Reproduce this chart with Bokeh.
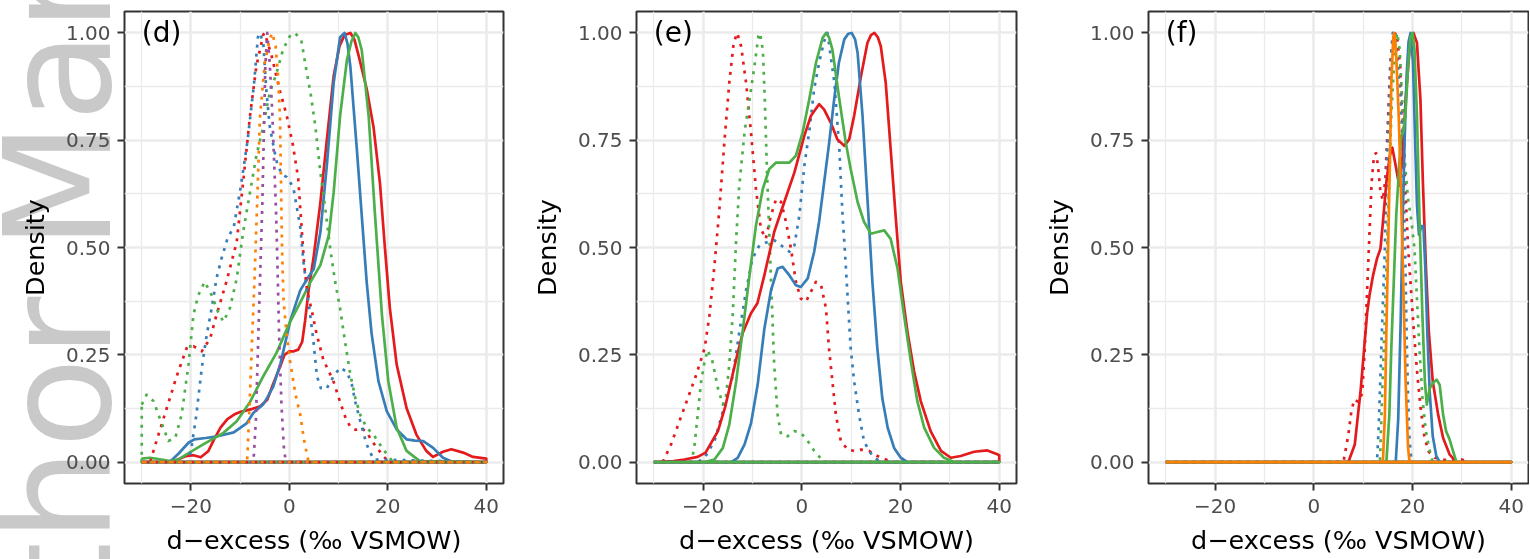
from bokeh.plotting import figure
from bokeh.layouts import row
from bokeh.models import (Range1d, FixedTicker, Label, CustomJSTickFormatter,
                          PrintfTickFormatter, Div)
from bokeh.embed import file_html
from bokeh.resources import INLINE

# ------------------------------------------------------------------ data
X_LIMITS = [-30, 40]
X_TICKS = [-20, 0, 20, 40]
X_MINOR = [-30, -10, 10, 30]
Y_TICKS = [0.0, 0.25, 0.5, 0.75, 1.0]
Y_MINOR = [0.125, 0.375, 0.625, 0.875]
PANEL_TAGS = ["(d)", "(e)", "(f)"]
X_TITLE = "d\u2212excess (\u2030 VSMOW)"
Y_TITLE = "Density"
WATERMARK = "Author Manuscript"

# ---- panel (d)
D_RED_SOLID_X = [-30, -26, -23, -21, -19.5, -18, -16.5, -15.3, -14, -12.6, -11, -9.9, -7.5, -5.9, -4.5, -3.2, -1.8, -1.0, 0.0, 0.9, 1.8, 2.6, 3.2, 3.9, 4.95, 6.3, 7.6, 9.0, 10.2, 11.2, 12.4, 13.2, 14.0, 15.7, 17.1, 18.4, 19.4, 20.4, 21.8, 23.8, 25.8, 27.8, 29.2, 31.2, 32.9, 35.3, 37.3, 40]
D_RED_SOLID_Y = [0, 0, 0.004, 0.014, 0.016, 0.011, 0.025, 0.053, 0.08, 0.1, 0.112, 0.117, 0.124, 0.13, 0.145, 0.185, 0.225, 0.25, 0.258, 0.258, 0.262, 0.28, 0.33, 0.40, 0.48, 0.605, 0.75, 0.9, 0.97, 0.995, 1.0, 0.985, 0.95, 0.87, 0.78, 0.65, 0.50, 0.36, 0.227, 0.126, 0.064, 0.026, 0.012, 0.024, 0.03, 0.022, 0.012, 0.008]
D_BLUE_SOLID_X = [-30, -24.3, -22.5, -20.5, -19.3, -17, -14.6, -11.3, -8.7, -7.3, -5.3, -4.5, -3.3, -1.8, 0.2, 2.2, 3.8, 4.95, 6.3, 7.6, 9.0, 10.3, 11.2, 11.8, 12.4, 13.7, 14.7, 15.7, 16.7, 18.1, 19.8, 21.8, 23.8, 25.5, 27.2, 29.2, 31.2, 33.2, 40]
D_BLUE_SOLID_Y = [0, 0, 0.02, 0.045, 0.053, 0.056, 0.06, 0.069, 0.09, 0.115, 0.135, 0.15, 0.175, 0.23, 0.33, 0.40, 0.43, 0.45, 0.536, 0.69, 0.884, 0.99, 1.0, 0.975, 0.92, 0.73, 0.575, 0.42, 0.30, 0.188, 0.118, 0.076, 0.053, 0.05, 0.049, 0.033, 0.01, 0.0, 0]
D_GREEN_SOLID_X = [-30, -28.3, -26, -24.3, -22.5, -20.9, -17.5, -13.4, -10.7, -8.0, -5.3, -2.6, 0.07, 2.3, 4.3, 6.3, 8.0, 9.0, 10.3, 11.7, 12.6, 13.4, 14.0, 14.7, 16.1, 17.4, 18.8, 20.1, 21.8, 23.8, 26.5, 40]
D_GREEN_SOLID_Y = [0.008, 0.01, 0.006, 0.002, 0.006, 0.018, 0.041, 0.068, 0.095, 0.14, 0.2, 0.255, 0.325, 0.374, 0.42, 0.459, 0.528, 0.629, 0.807, 0.938, 0.98, 1.0, 0.99, 0.96, 0.807, 0.575, 0.343, 0.188, 0.08, 0.026, 0.002, 0]
D_RED_DOT_X = [-30, -28.3, -27, -24.9, -22.9, -20.9, -19.5, -17.8, -16.1, -14.8, -12.8, -10.7, -9.4, -8.0, -6.7, -5.3, -5.0, -3.6, -2.0, -0.6, 0.7, 1.8, 2.4, 3.0, 3.6, 4.5, 5.5, 6.9, 8.9, 10.3, 11.5, 12.5, 13.5, 14.5, 15.7, 16.7, 18.0, 19.2, 20.3, 40]
D_RED_DOT_Y = [0, 0, 0.049, 0.126, 0.2, 0.265, 0.27, 0.258, 0.288, 0.343, 0.42, 0.513, 0.652, 0.807, 0.923, 0.996, 1.0, 0.946, 0.868, 0.81, 0.74, 0.66, 0.56, 0.46, 0.40, 0.355, 0.3, 0.238, 0.19, 0.14, 0.1, 0.08, 0.075, 0.08, 0.07, 0.05, 0.03, 0.012, 0, 0]
D_BLUE_DOT_X = [-30, -20.5, -19.9, -18.9, -17.8, -16.8, -15.8, -14.8, -13.9, -12.6, -11.3, -9.9, -8.5, -7.2, -6.4, -6.0, -5.3, -4.7, -4.0, -3.2, -2.5, -1.5, -0.5, 0.8, 2.2, 2.9, 3.8, 4.8, 5.6, 6.4, 7.5, 9.0, 10.3, 11.7, 12.7, 13.4, 14.4, 15.7, 17.1, 40]
D_BLUE_DOT_Y = [0, 0, 0.033, 0.11, 0.219, 0.296, 0.358, 0.428, 0.47, 0.52, 0.548, 0.64, 0.749, 0.88, 0.99, 1.0, 0.977, 0.868, 0.783, 0.734, 0.696, 0.67, 0.664, 0.64, 0.548, 0.463, 0.381, 0.29, 0.2, 0.172, 0.17, 0.2, 0.22, 0.21, 0.18, 0.14, 0.095, 0.041, 0.006, 0]
D_GREEN_DOT_X = [-30, -29, -27.6, -26.6, -25.6, -24.6, -23.2, -21.9, -20.5, -19.5, -18.5, -17.2, -15.8, -14.5, -13.4, -12.1, -10.7, -9.4, -8.0, -6.7, -5.3, -4.0, -2.6, -1.3, 0.07, 1.1, 2.4, 3.3, 4.3, 5.3, 6.3, 7.3, 8.3, 9.3, 10.3, 11.3, 12.4, 13.4, 14.4, 15.7, 17.1, 18.4, 19.8, 21.1, 40]
D_GREEN_DOT_Y = [0.134, 0.157, 0.142, 0.11, 0.08, 0.049, 0.056, 0.11, 0.227, 0.343, 0.389, 0.42, 0.389, 0.35, 0.327, 0.358, 0.428, 0.536, 0.629, 0.714, 0.783, 0.861, 0.907, 0.961, 0.992, 1.0, 0.985, 0.923, 0.86, 0.78, 0.675, 0.59, 0.497, 0.42, 0.358, 0.281, 0.203, 0.149, 0.11, 0.08, 0.064, 0.041, 0.018, 0, 0]
D_PURPLE_DOT_X = [-30, -7.3, -6.8, -6.3, -5.9, -5.5, -5.2, -4.9, -4.5, -4.0, -3.5, -3.1, -2.7, -2.4, -2.1, -1.6, -1.1, -0.7, 40]
D_PURPLE_DOT_Y = [0, 0, 0.1, 0.3, 0.45, 0.6, 0.76, 0.92, 1.0, 0.93, 0.82, 0.7, 0.58, 0.45, 0.3, 0.13, 0.03, 0, 0]
D_ORANGE_DOT_X = [-30, -8.6, -8.2, -7.6, -7.1, -6.5, -6.0, -5.0, -4.0, -3.5, -2.8, -2.3, -1.9, -1.7, -1.5, -1.2, -0.6, 0.2, 1.2, 2.2, 3.0, 3.9, 40]
D_ORANGE_DOT_Y = [0, 0, 0.1, 0.28, 0.42, 0.62, 0.8, 0.93, 0.985, 1.0, 0.97, 0.9, 0.8, 0.65, 0.5, 0.38, 0.3, 0.23, 0.16, 0.11, 0.05, 0, 0]

# ---- panel (e)
E_RED_SOLID_X = [-30, -26, -23.8, -21.1, -19.5, -17.0, -15.5, -13.5, -12.0, -10.3, -9.0, -7.6, -5.6, -3.55, -1.5, 0.5, 1.85, 3.5, 4.5, 5.9, 7.2, 8.6, 9.6, 10.6, 12.0, 13.3, 14.0, 14.7, 15.4, 16.0, 17.0, 18.0, 19.0, 20.05, 21.4, 22.75, 24.1, 26.1, 28.2, 30.2, 32.2, 34.9, 37.6, 39.6, 40]
E_RED_SOLID_Y = [0, 0.002, 0.006, 0.012, 0.022, 0.072, 0.13, 0.23, 0.3, 0.347, 0.37, 0.435, 0.536, 0.606, 0.675, 0.76, 0.807, 0.834, 0.822, 0.79, 0.752, 0.737, 0.752, 0.807, 0.9, 0.977, 0.995, 1.0, 0.99, 0.969, 0.884, 0.73, 0.575, 0.42, 0.304, 0.211, 0.142, 0.072, 0.026, 0.01, 0.014, 0.024, 0.027, 0.018, 0.016]
E_BLUE_SOLID_X = [-30, -14.3, -13.0, -11.6, -10.3, -8.95, -7.6, -6.25, -4.9, -3.9, -2.5, -1.2, -0.2, 1.2, 2.5, 3.5, 4.5, 5.5, 6.5, 7.5, 8.6, 9.4, 10.1, 10.8, 11.3, 12.3, 13.3, 14.3, 15.3, 16.3, 17.4, 18.7, 20.05, 21.4, 40]
E_BLUE_SOLID_Y = [0, 0, 0.01, 0.041, 0.09, 0.18, 0.31, 0.40, 0.451, 0.455, 0.435, 0.412, 0.408, 0.428, 0.49, 0.56, 0.65, 0.74, 0.84, 0.93, 0.985, 0.998, 1.0, 0.985, 0.954, 0.807, 0.613, 0.42, 0.265, 0.149, 0.08, 0.033, 0.01, 0, 0]
E_GREEN_SOLID_X = [-30, -19.7, -17.7, -16.0, -14.7, -13.3, -12.0, -10.6, -9.3, -7.9, -6.6, -5.2, -3.9, -2.5, -1.2, 0.16, 1.5, 2.86, 4.2, 4.9, 5.5, 6.2, 7.6, 8.9, 9.9, 11.3, 12.6, 14.0, 15.3, 16.7, 18.0, 19.4, 20.7, 22.1, 23.4, 24.8, 26.8, 28.8, 30.9, 40]
E_GREEN_SOLID_Y = [0, 0, 0.006, 0.033, 0.087, 0.188, 0.304, 0.435, 0.551, 0.637, 0.683, 0.698, 0.698, 0.698, 0.714, 0.768, 0.845, 0.93, 0.988, 1.0, 0.99, 0.961, 0.845, 0.745, 0.683, 0.606, 0.56, 0.532, 0.536, 0.54, 0.52, 0.451, 0.343, 0.234, 0.142, 0.08, 0.033, 0.01, 0, 0]
E_RED_DOT_X = [-30, -28.2, -26.5, -24.8, -23.1, -21.4, -19.7, -18.7, -17.7, -16.7, -15.7, -14.7, -13.8, -13.1, -12.3, -11.3, -10.3, -9.3, -8.3, -7.3, -6.25, -5.2, -4.2, -3.2, -2.2, -1.2, -0.2, 0.84, 1.85, 2.85, 3.9, 4.9, 5.5, 6.2, 6.9, 7.9, 9.3, 10.6, 12.0, 13.6, 15.3, 17.4, 18.7, 40]
E_RED_DOT_Y = [0, 0, 0.041, 0.095, 0.149, 0.203, 0.265, 0.343, 0.459, 0.59, 0.745, 0.884, 0.977, 1.0, 0.969, 0.884, 0.768, 0.637, 0.544, 0.52, 0.575, 0.613, 0.606, 0.559, 0.497, 0.42, 0.381, 0.374, 0.397, 0.42, 0.412, 0.358, 0.265, 0.188, 0.11, 0.049, 0.029, 0.026, 0.029, 0.026, 0.014, 0.004, 0, 0]
E_BLUE_DOT_X = [-30, -21.1, -19.7, -17.7, -15.7, -14.0, -12.7, -11.3, -10.0, -8.6, -6.9, -5.6, -4.2, -2.5, -1.5, -0.5, 0.5, 1.5, 2.5, 3.5, 4.5, 5.2, 6.6, 7.6, 8.25, 8.7, 9.3, 9.9, 10.6, 11.6, 12.6, 13.6, 14.7, 16.0, 40]
E_BLUE_DOT_Y = [0, 0, 0.01, 0.049, 0.13, 0.2, 0.3, 0.4, 0.474, 0.505, 0.513, 0.517, 0.505, 0.49, 0.505, 0.575, 0.69, 0.77, 0.87, 0.93, 0.98, 1.0, 0.884, 0.73, 0.575, 0.497, 0.381, 0.265, 0.188, 0.11, 0.049, 0.026, 0.01, 0, 0]
E_GREEN_DOT_X = [-30, -22.4, -21.8, -21.1, -20.4, -19.7, -19.1, -18.1, -17.0, -16.0, -15.4, -14.7, -14.0, -13.3, -12.7, -11.6, -10.6, -9.6, -8.8, -8.5, -7.9, -7.5, -7.1, -6.6, -6.1, -5.6, -4.9, -4.2, -2.9, -1.5, -0.2, 1.2, 2.5, 4.2, 4.9, 40]
E_GREEN_DOT_Y = [0, 0, 0.033, 0.11, 0.188, 0.234, 0.261, 0.234, 0.172, 0.134, 0.149, 0.227, 0.343, 0.52, 0.64, 0.77, 0.845, 0.923, 0.992, 1.0, 0.961, 0.845, 0.69, 0.536, 0.381, 0.227, 0.11, 0.064, 0.06, 0.072, 0.068, 0.049, 0.026, 0.004, 0, 0]

# ---- panel (f)
F_RED_SOLID_X = [-30, 7.0, 8.3, 9.5, 10.8, 11.3, 12.0, 12.8, 13.5, 14.0, 14.7, 15.4, 15.9, 16.6, 17.3, 18.0, 18.6, 19.4, 20.2, 20.9, 21.6, 22.1, 22.7, 23.3, 24.1, 25.2, 26.2, 27.5, 28.9, 40]
F_RED_SOLID_Y = [0, 0, 0.041, 0.169, 0.347, 0.39, 0.435, 0.474, 0.497, 0.559, 0.652, 0.714, 0.733, 0.69, 0.644, 0.714, 0.845, 0.961, 1.0, 0.977, 0.845, 0.652, 0.459, 0.304, 0.188, 0.11, 0.056, 0.018, 0, 0]
F_BLUE_SOLID_X = [-30, 16.6, 17.1, 17.6, 18.0, 18.4, 18.8, 19.2, 19.6, 20.1, 20.5, 20.9, 21.3, 21.8, 22.2, 22.6, 23.0, 23.5, 24.1, 24.8, 25.5, 40]
F_BLUE_SOLID_Y = [0, 0, 0.1, 0.33, 0.56, 0.75, 0.9, 0.98, 1.0, 0.93, 0.76, 0.6, 0.53, 0.55, 0.55, 0.45, 0.3, 0.16, 0.06, 0.015, 0, 0]
F_GREEN_SOLID_X = [-30, 14.7, 15.3, 15.7, 16.2, 16.7, 17.3, 17.7, 18.1, 18.55, 19.1, 19.6, 20.0, 20.4, 20.9, 21.4, 22.0, 22.5, 22.9, 23.5, 24.1, 24.9, 25.5, 26.2, 26.8, 27.5, 28.2, 28.9, 40]
F_GREEN_SOLID_Y = [0, 0, 0.11, 0.265, 0.42, 0.575, 0.69, 0.76, 0.768, 0.807, 0.923, 0.992, 1.0, 0.961, 0.807, 0.575, 0.343, 0.188, 0.134, 0.172, 0.184, 0.192, 0.18, 0.11, 0.072, 0.053, 0.026, 0, 0]
F_ORANGE_SOLID_X = [-30, 14.0, 14.4, 14.7, 15.05, 15.4, 15.7, 16.1, 16.3, 16.7, 17.2, 17.7, 18.2, 18.6, 19.1, 19.4, 40]
F_ORANGE_SOLID_Y = [0, 0, 0.11, 0.304, 0.497, 0.69, 0.884, 0.99, 1.0, 0.946, 0.807, 0.613, 0.381, 0.188, 0.033, 0, 0]
F_RED_DOT_X = [-30, 6.0, 7.0, 7.6, 8.2, 9.0, 9.8, 10.3, 10.8, 11.3, 11.7, 12.2, 12.6, 13.0, 13.5, 14.0, 14.5, 15.0, 15.5, 16.1, 16.8, 17.5, 18.0, 18.5, 19.1, 19.7, 20.3, 21.0, 21.7, 22.4, 23.2, 24.5, 27.5, 30.0, 31.0, 40]
F_RED_DOT_Y = [0, 0, 0.064, 0.118, 0.146, 0.14, 0.16, 0.26, 0.4, 0.54, 0.65, 0.715, 0.72, 0.69, 0.63, 0.61, 0.66, 0.79, 0.93, 0.995, 1.0, 0.92, 0.78, 0.65, 0.5, 0.4, 0.3, 0.2, 0.12, 0.06, 0.025, 0.01, 0.003, 0.006, 0, 0]
F_BLUE_DOT_X = [-30, 12.8, 13.1, 13.5, 13.9, 14.4, 14.8, 15.3, 15.7, 16.0, 16.5, 17.0, 17.6, 18.1, 18.5, 18.8, 19.1, 19.4, 19.8, 40]
F_BLUE_DOT_Y = [0, 0, 0.07, 0.2, 0.34, 0.5, 0.69, 0.85, 0.96, 1.0, 0.98, 0.93, 0.85, 0.7, 0.5, 0.3, 0.15, 0.05, 0, 0]
F_GREEN_DOT_X = [-30, 13.4, 13.7, 14.4, 15.05, 15.7, 16.4, 16.9, 17.4, 17.9, 18.5, 19.1, 19.8, 20.4, 20.9, 21.4, 22.0, 22.7, 23.5, 24.1, 40]
F_GREEN_DOT_Y = [0, 0, 0.11, 0.343, 0.575, 0.807, 0.961, 1.0, 0.961, 0.845, 0.69, 0.613, 0.559, 0.497, 0.381, 0.265, 0.149, 0.072, 0.026, 0, 0]

# ------------------------------------------------------------------ style
RED, BLUE, GREEN, PURPLE, ORANGE = "#E41A1C", "#377EB8", "#4DAF4A", "#984EA3", "#FF7F00"
FONT = "DejaVu Sans"
FRAME_H = 472
LINE_W = 2.7

PANELS = [
    # tag, curves in drawing order (x, y, colour, dotted), border_left, frame_w, border_right
    (PANEL_TAGS[0], [
        (D_RED_SOLID_X, D_RED_SOLID_Y, RED, False),
        (D_BLUE_SOLID_X, D_BLUE_SOLID_Y, BLUE, False),
        (D_GREEN_SOLID_X, D_GREEN_SOLID_Y, GREEN, False),
        (D_RED_DOT_X, D_RED_DOT_Y, RED, True),
        (D_BLUE_DOT_X, D_BLUE_DOT_Y, BLUE, True),
        (D_GREEN_DOT_X, D_GREEN_DOT_Y, GREEN, True),
        (D_PURPLE_DOT_X, D_PURPLE_DOT_Y, PURPLE, True),
        (D_ORANGE_DOT_X, D_ORANGE_DOT_Y, ORANGE, True),
    ], 124, 379, 7),
    (PANEL_TAGS[1], [
        (E_RED_DOT_X, E_RED_DOT_Y, RED, True),
        (E_BLUE_DOT_X, E_BLUE_DOT_Y, BLUE, True),
        (E_GREEN_DOT_X, E_GREEN_DOT_Y, GREEN, True),
        (E_RED_SOLID_X, E_RED_SOLID_Y, RED, False),
        (E_BLUE_SOLID_X, E_BLUE_SOLID_Y, BLUE, False),
        (E_GREEN_SOLID_X, E_GREEN_SOLID_Y, GREEN, False),
    ], 126, 380, 4),
    (PANEL_TAGS[2], [
        (F_RED_DOT_X, F_RED_DOT_Y, RED, True),
        (F_BLUE_DOT_X, F_BLUE_DOT_Y, BLUE, True),
        (F_GREEN_DOT_X, F_GREEN_DOT_Y, GREEN, True),
        (F_RED_SOLID_X, F_RED_SOLID_Y, RED, False),
        (F_BLUE_SOLID_X, F_BLUE_SOLID_Y, BLUE, False),
        (F_GREEN_SOLID_X, F_GREEN_SOLID_Y, GREEN, False),
        (F_ORANGE_SOLID_X, F_ORANGE_SOLID_Y, ORANGE, False),
    ], 128, 380, 1),
]


def make_panel(tag, curves, border_left, frame_w, border_right):
    span = X_LIMITS[1] - X_LIMITS[0]
    p = figure(frame_width=frame_w, frame_height=FRAME_H,
               x_range=Range1d(X_LIMITS[0] - 0.05 * span, X_LIMITS[1] + 0.05 * span),
               y_range=Range1d(Y_TICKS[0] - 0.05, Y_TICKS[-1] + 0.05),
               output_backend="svg", toolbar_location=None,
               min_border_left=border_left, min_border_right=border_right,
               min_border_top=11, min_border_bottom=75)
    p.background_fill_color = "white"
    p.border_fill_color = None
    p.outline_line_color = "#333333"
    p.outline_line_width = 2

    xt = FixedTicker(ticks=X_TICKS, minor_ticks=X_MINOR)
    yt = FixedTicker(ticks=Y_TICKS, minor_ticks=Y_MINOR)
    p.xaxis.ticker = xt
    p.yaxis.ticker = yt
    p.xgrid.ticker = xt
    p.ygrid.ticker = yt
    for g in (p.xgrid[0], p.ygrid[0]):
        g.grid_line_color = "#EBEBEB"
        g.grid_line_width = 2.6
        g.minor_grid_line_color = "#EBEBEB"
        g.minor_grid_line_width = 1.3

    p.xaxis.formatter = CustomJSTickFormatter(
        code="return tick < 0 ? '\u2212' + String(-tick) : String(tick);")
    p.yaxis.formatter = PrintfTickFormatter(format="%.2f")
    for ax in (p.xaxis[0], p.yaxis[0]):
        ax.axis_line_color = None
        ax.major_tick_line_color = "#333333"
        ax.major_tick_line_width = 2
        ax.major_tick_out = 7
        ax.major_tick_in = 0
        ax.minor_tick_line_color = None
        ax.major_label_text_font = FONT
        ax.major_label_text_font_size = "20px"
        ax.major_label_text_color = "#4D4D4D"
        ax.axis_label_text_font = FONT
        ax.axis_label_text_font_size = "25.5px"
        ax.axis_label_text_font_style = "normal"
        ax.axis_label_text_color = "black"
    p.xaxis.axis_label = X_TITLE
    p.yaxis.axis_label = Y_TITLE
    p.xaxis.major_label_standoff = 8
    p.xaxis.axis_label_standoff = 9
    p.yaxis.major_label_standoff = 7
    p.yaxis.axis_label_standoff = 13

    for xs, ys, color, dotted in curves:
        # closed outline as drawn by a density polygon: curve, right edge, baseline, left edge
        px = list(xs) + [X_LIMITS[1], X_LIMITS[0], xs[0]]
        py = list(ys) + [0.0, 0.0, ys[0]]
        p.line(px, py, line_color=color, line_width=LINE_W,
               line_dash="3 6" if dotted else "solid",
               line_join="round", line_cap="butt")

    p.add_layout(Label(x=X_LIMITS[0], y=Y_TICKS[-1], text=tag, text_align="left",
                       text_baseline="middle", text_font=FONT,
                       text_font_size="28px", text_color="black"))
    return p


figs = [make_panel(*spec) for spec in PANELS]

wm_html = (
    '<div style="position:fixed;left:0;top:0;width:121px;height:559px;overflow:hidden;'
    'z-index:-1;pointer-events:none;">'
    '<span style="position:absolute;left:-15px;top:795px;font-family:\'DejaVu Sans\';'
    'font-size:148px;line-height:1;color:#C9C9C9;white-space:nowrap;'
    'transform-origin:0 0;transform:rotate(-90deg);">'
    + WATERMARK + '</span></div>')
wm = Div(text=wm_html, width=0, height=0, margin=(0, 0, 0, 0))

layout = row(*figs, wm)
open("out.html", "w").write(file_html(layout, INLINE))
